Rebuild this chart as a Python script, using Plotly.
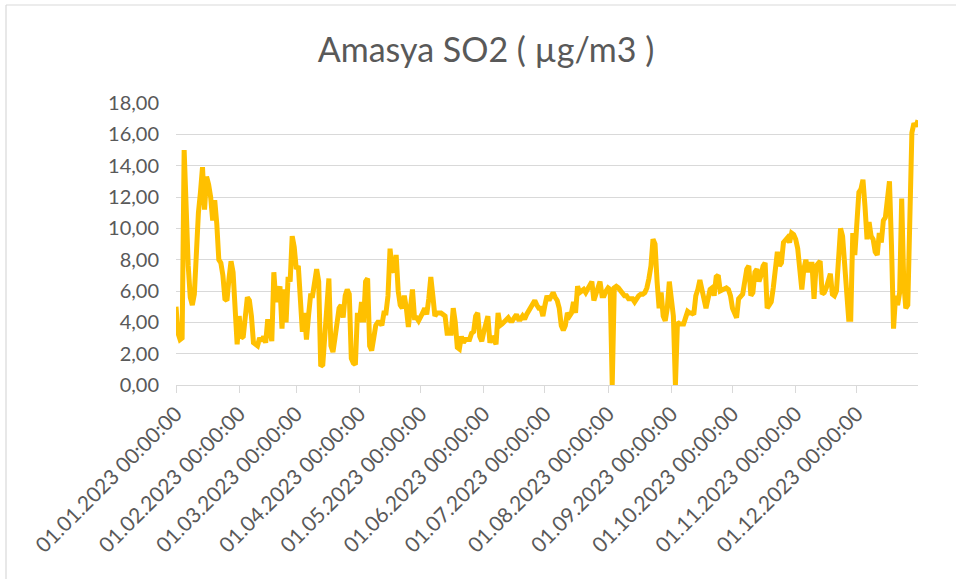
import pandas as pd
import plotly.graph_objects as go

# Daily SO2 values (µg/m3), Amasya, 2023 — one list per month
jan = [5.0, 3.3, 2.9, 3.0, 15.0, 10.0, 7.6, 5.6, 5.1, 5.8, 9.0, 11.0, 12.3, 13.9, 11.2, 13.3,
       12.8, 12.0, 10.5, 11.8, 10.3, 8.0, 7.8, 7.0, 5.5, 5.4, 6.8, 7.9, 7.2, 5.0, 2.6]
feb = [4.4, 3.0, 3.1, 4.5, 5.6, 5.4, 4.4, 2.7, 2.6, 2.5, 3.0, 2.8, 3.1, 2.7, 4.2, 3.6,
       2.8, 7.2, 5.3, 5.8, 6.3, 3.6, 6.1, 4.0, 6.9, 6.6, 9.5, 8.8]
mar = [7.4, 7.6, 4.6, 3.4, 4.6, 2.9, 4.4, 5.7, 5.7, 6.6, 7.4, 6.6, 1.2, 1.3, 3.6, 5.2,
       6.8, 2.5, 2.1, 3.0, 4.2, 4.9, 5.1, 4.3, 5.7, 6.1, 5.8, 1.7, 1.4, 1.3, 4.6]
apr = [4.0, 5.3, 4.0, 6.6, 6.8, 2.5, 2.2, 3.0, 3.8, 4.0, 4.0, 3.8, 4.6, 4.6, 5.7, 8.7,
       7.4, 7.2, 8.3, 6.0, 5.1, 4.9, 5.7, 4.9, 3.7, 4.9, 6.1, 4.3, 4.3, 4.1]
may = [4.3, 4.6, 4.9, 4.5, 5.5, 6.9, 5.7, 4.4, 4.6, 4.6, 4.6, 4.5, 4.4, 3.3, 3.3, 3.3,
       4.9, 4.0, 2.4, 2.3, 3.1, 2.7, 2.9, 2.9, 2.9, 3.3, 3.4, 4.4, 4.6, 3.1, 2.8]
jun = [3.4, 4.0, 4.4, 2.7, 3.1, 2.9, 2.6, 4.6, 3.8, 3.9, 4.0, 4.1, 4.3, 4.1, 4.1, 4.3,
       4.5, 4.2, 4.2, 4.4, 4.2, 4.5, 4.7, 5.0, 5.2, 5.4, 5.1, 4.9, 4.9, 4.4]
jul = [5.1, 5.7, 5.4, 5.7, 5.9, 5.6, 5.4, 4.9, 3.8, 3.5, 3.8, 4.6, 4.4, 4.6, 5.3, 4.6,
       6.3, 5.9, 6.0, 6.1, 5.9, 6.1, 6.4, 6.6, 5.4, 5.9, 6.3, 6.6, 5.7, 5.7, 6.0]
aug = [6.2, 6.1, 0.0, 6.2, 6.3, 6.2, 6.0, 5.9, 5.7, 5.7, 5.5, 5.5, 5.5, 5.3, 5.6, 5.7,
       5.8, 5.8, 5.9, 6.2, 6.8, 7.6, 9.3, 9.0, 6.6, 4.9, 5.9, 4.4, 4.1, 4.9, 6.6]
sep = [5.3, 4.4, 0.0, 4.0, 3.9, 3.9, 3.9, 4.3, 4.7, 4.6, 4.6, 4.5, 5.7, 6.1, 6.7, 6.1,
       5.3, 4.9, 5.5, 6.1, 6.2, 5.7, 6.9, 7.0, 6.0, 6.1, 6.1, 6.2, 6.1, 5.7]
oct_ = [4.9, 4.6, 4.3, 5.5, 5.6, 5.8, 6.6, 7.4, 7.6, 5.7, 5.9, 7.2, 7.4, 6.6, 7.0, 7.6,
        7.8, 4.9, 5.1, 5.3, 6.2, 7.2, 8.5, 7.6, 7.8, 9.1, 9.3, 9.4, 9.1, 9.7, 9.6]
nov = [9.3, 8.7, 7.5, 6.1, 7.4, 8.0, 7.2, 7.7, 7.7, 5.5, 7.6, 7.8, 7.9, 5.8, 5.9, 6.2,
       6.6, 7.1, 5.8, 5.7, 6.0, 8.2, 10.0, 9.5, 8.0, 6.1, 4.2, 4.2, 9.7, 8.3]
dec = [10.5, 12.3, 12.5, 13.1, 11.4, 9.3, 10.4, 9.5, 9.3, 8.5, 8.3, 9.7, 9.1, 10.5, 10.7, 12.1,
       13.0, 8.9, 3.6, 5.7, 5.1, 5.9, 11.9, 6.6, 4.9, 5.1, 12.5, 16.1, 16.7, 16.5, 16.9]

tick_dates = ["2023-01-01", "2023-02-01", "2023-03-01", "2023-04-01", "2023-05-01", "2023-06-01",
              "2023-07-01", "2023-08-01", "2023-09-01", "2023-10-01", "2023-11-01", "2023-12-01"]
tick_labels = ["01.01.2023 00:00:00", "01.02.2023 00:00:00", "01.03.2023 00:00:00",
               "01.04.2023 00:00:00", "01.05.2023 00:00:00", "01.06.2023 00:00:00",
               "01.07.2023 00:00:00", "01.08.2023 00:00:00", "01.09.2023 00:00:00",
               "01.10.2023 00:00:00", "01.11.2023 00:00:00", "01.12.2023 00:00:00"]
title_text = "Amasya SO2 ( µg/m3 )"

values = jan + feb + mar + apr + may + jun + jul + aug + sep + oct_ + nov + dec
dates = pd.date_range("2023-01-01", periods=len(values), freq="D")

FONT = "Lato, 'Open Sans', sans-serif"
GREY = "#595959"
GRID = "#D9D9D9"

fig = go.Figure()
fig.add_trace(go.Scatter(
    x=dates, y=values, mode="lines",
    line=dict(color="#FFC000", width=5),
    hoverinfo="x+y",
))

W, H = 956, 579
L, R, T, B = 176, 38, 103, 194
pw, ph = W - L - R, H - T - B

def px_x(px):
    return (px - L) / pw

def px_y(py):
    return (H - B - py) / ph

fig.update_layout(
    width=W, height=H,
    margin=dict(l=L, r=R, t=T, b=B, autoexpand=False),
    paper_bgcolor="white", plot_bgcolor="white",
    separators=",.",
    showlegend=False,
    title=dict(text=title_text, x=px_x(486), xref="paper", xanchor="center",
               y=1 - 50 / H, yref="container", yanchor="middle",
               font=dict(family=FONT, size=34, color=GREY)),
    font=dict(family=FONT, color=GREY),
    shapes=[
        dict(type="line", xref="paper", yref="paper", x0=px_x(6), x1=px_x(960),
             y0=px_y(5), y1=px_y(5), line=dict(color=GRID, width=1.2)),
        dict(type="line", xref="paper", yref="paper", x0=px_x(6), x1=px_x(6),
             y0=px_y(5), y1=px_y(585), line=dict(color=GRID, width=1.2)),
    ],
)
fig.update_yaxes(
    range=[0, 18], dtick=2, tick0=0, tickformat=".2f",
    showgrid=True, gridcolor=GRID, gridwidth=1.3,
    zeroline=False, showline=False, ticks="",
    tickfont=dict(family=FONT, size=20, color=GREY),
    ticklabelstandoff=16,
)
fig.update_xaxes(
    type="date", range=["2023-01-01", "2023-12-31"],
    tickvals=tick_dates, ticktext=tick_labels, tickangle=-45,
    showgrid=False, zeroline=False,
    showline=True, linecolor=GRID, linewidth=1.3,
    ticks="outside", ticklen=7, tickcolor=GRID, tickwidth=1.3,
    tickfont=dict(family=FONT, size=21, color=GREY),
)

fig.write_html(
    "out.html",
    config={"displayModeBar": False},
    post_script="document.body.style.margin='0';document.body.style.overflow='hidden';",
)
